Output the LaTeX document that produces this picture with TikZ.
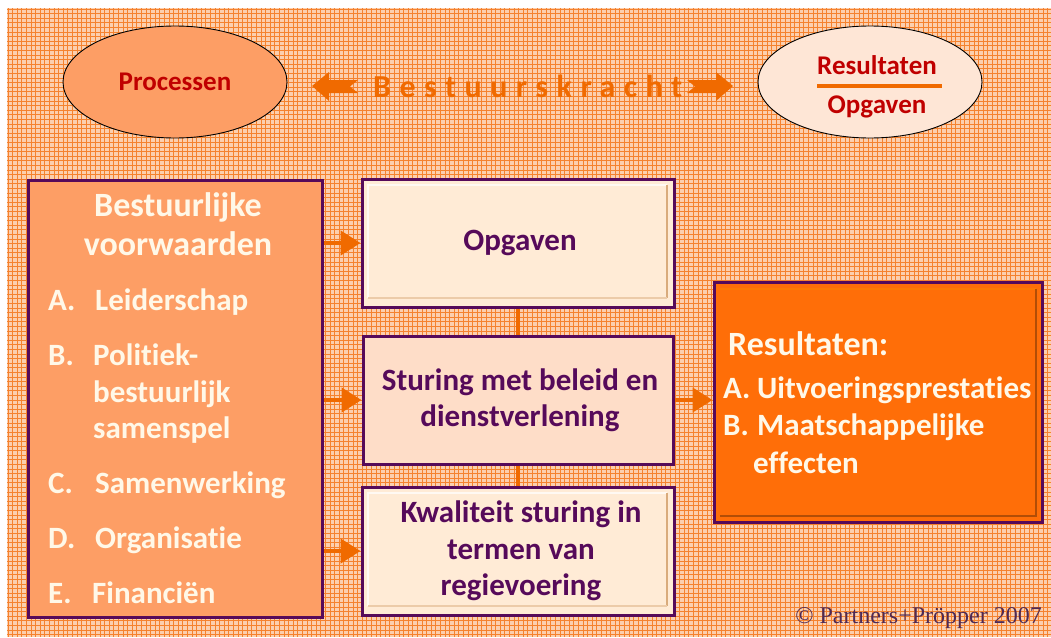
\documentclass[tikz,border=0pt]{standalone}
\usepackage{fontspec}
\setmainfont[Ligatures=NoCommon]{Carlito}
\newfontfamily\copyfont{Liberation Serif}
\newfontfamily\spacedfont[LetterSpace=26.5,Ligatures=NoCommon]{Carlito}
\usetikzlibrary{arrows.meta,shapes.geometric}
\definecolor{bgpeach}{HTML}{FCCFAE}
\definecolor{gridor}{HTML}{F5822E}
\definecolor{salmon}{HTML}{FD9E65}
\definecolor{lightpeach}{HTML}{FEE6D6}
\definecolor{cream}{HTML}{FFEBD6}
\definecolor{peachbox}{HTML}{FEDDC8}
\definecolor{vivid}{HTML}{FF6E08}
\definecolor{arrowor}{HTML}{F06A00}
\definecolor{purp}{HTML}{560A5A}
\definecolor{darkred}{HTML}{C00000}
\definecolor{offwhite}{HTML}{FFF8E8}
\definecolor{copyc}{HTML}{4E2A55}
\tikzset{
  ell/.style={ellipse, draw=black, line width=0.9pt, minimum width=224pt, minimum height=112pt, inner sep=0pt},
  ellt/.style={text=darkred, font=\bfseries\fontsize{27}{30}\selectfont, inner sep=0pt},
  pbox/.style={draw=purp, line width=3pt, inner sep=0pt},
  midt/.style={text=purp, font=\bfseries\fontsize{31}{36.5}\selectfont, align=center, inner sep=0pt},
  leftt/.style={text=offwhite, font=\bfseries\fontsize{31}{38}\selectfont, inner sep=0pt, anchor=west, text height=24pt, text depth=4pt},
  rest/.style={text=offwhite, font=\bfseries\fontsize{31}{38}\selectfont, inner sep=0pt, anchor=west, text height=24pt, text depth=4pt},
  conn/.style={draw=arrowor, line width=4.5pt, -{Triangle[length=20pt,width=24pt]}},
  vconn/.style={draw=arrowor, line width=4pt},
}
\begin{document}
\begin{tikzpicture}[x=1pt,y=-1pt]
\useasboundingbox (0,0) rectangle (1051,637);
\fill[white] (0,0) rectangle (1051,637);
\fill[bgpeach] (7,8) rectangle (1051,637);
\begin{scope}
\clip (7,8) rectangle (1051,637);
\foreach \i in {0,...,228} {\draw[gridor, line width=0.9pt] ({8+\i*4.6},8) -- ++(0,629);}
\foreach \j in {0,...,137} {\draw[gridor, line width=0.9pt] (7,{9+\j*4.6}) -- ++(1044,0);}
\end{scope}

% top ellipses
\node[ell, fill=salmon] (P) at (175,82) {};
\node[ellt] (Pt) at (175,82) {Processen};
\node[ell, fill=lightpeach] (E) at (870,82) {};
\node[ellt] (E1) at (877,65) {Resultaten};
\node[ellt] (E2) at (877,107) {Opgaven};
\coordinate (Ea) at (817,86);
\coordinate (Eb) at (942,86);
\draw[arrowor, line width=4.5pt] (Ea) -- (Eb);

% Bestuurskracht arrows
\fill[arrowor] (312,86) -- (329,72) -- (329,80) -- (358,80) -- (350,86.5) -- (358,93) -- (329,93) -- (329,101) -- cycle;
\fill[arrowor] (733,86) -- (716,72) -- (716,80) -- (687,80) -- (695,86.5) -- (687,93) -- (716,93) -- (716,101) -- cycle;
\node[text=arrowor, font=\spacedfont\bfseries\fontsize{32}{34}\selectfont, inner sep=0pt, anchor=west, text height=22pt, text depth=0pt] (B) at (373,86) {Bestuurskracht};

% left box
\node[pbox, fill=salmon, minimum width=294pt, minimum height=437pt] (L) at (175,398.5) {};
\node[text=offwhite, font=\bfseries\fontsize{34}{39}\selectfont, align=center, inner sep=0pt] (Lh) at (178,224) {Bestuurlijke\\voorwaarden};
\node[leftt] (La) at (48,300) {\makebox[47pt][l]{A.}Leiderschap};
\node[leftt] (Lb) at (48,355) {\makebox[45pt][l]{B.}Politiek-};
\node[leftt] (Lbt2) at (93,392) {bestuurlijk};
\node[leftt] (Lbt3) at (93,428) {samenspel};
\node[leftt] (Lc) at (48,483) {\makebox[47pt][l]{C.}Samenwerking};
\node[leftt] (Ld) at (48,538) {\makebox[47pt][l]{D.}Organisatie};
\node[leftt] (Le) at (48,593) {\makebox[44pt][l]{E.}Financiën};

% middle boxes
\node[pbox, fill=cream, minimum width=312pt, minimum height=128pt] (O) at (518,243) {};
\draw[white!70!cream, line width=1.5pt] (368,298) -- (368,185) -- (667,185);
\draw[brown!60!cream, line width=1.2pt] (667,185) -- (667,298);
\draw[brown!30!cream, line width=2.5pt] (368,298) -- (667,298);
\node[midt] (Ot) at (520,243) {Opgaven};

\node[pbox, fill=peachbox, minimum width=310pt, minimum height=128pt] (S) at (518,400) {};
\node[midt] (St) at (520,400) {Sturing met beleid en\\dienstverlening};

\node[pbox, fill=cream, minimum width=312pt, minimum height=128pt] (K) at (518,551) {};
\draw[white!70!cream, line width=1.5pt] (368,606) -- (368,493) -- (667,493);
\draw[brown!60!cream, line width=1.2pt] (667,493) -- (667,606);
\draw[brown!30!cream, line width=2.5pt] (368,606) -- (667,606);
\node[midt] (Kt) at (521,551) {Kwaliteit sturing in\\termen van\\regievoering};

% result box
\node[pbox, fill=vivid, minimum width=328pt, minimum height=240pt] (R) at (878,402) {};
\draw[orange!60!vivid, line width=2pt] (720,289) -- (1036,289);
\draw[vivid!70!black, line width=2pt] (1036,289) -- (1036,516) -- (720,516);
\node[rest, font=\bfseries\fontsize{34}{38}\selectfont] (R0) at (728,345) {Resultaten:};
\node[rest] (Ra) at (723,388) {\makebox[34pt][l]{A.}Uitvoeringsprestaties};
\node[rest] (Rb) at (723,425) {\makebox[34pt][l]{B.}Maatschappelijke};
\node[rest] (Rbt2) at (753,463) {effecten};

% connectors
\draw[vconn] (O.south) -- (S.north);
\draw[vconn] (S.south) -- (K.north);
\draw[conn] (L.east |- O.west) -- (O.west);
\draw[conn] (L.east |- S.west) -- (S.west);
\draw[conn] (L.east |- K.west) -- (K.west);
\draw[conn] (S.east) -- (R.west |- S.east);

% copyright
\node[text=copyc, font=\copyfont\fontsize{24}{28}\selectfont, inner sep=0pt, anchor=east] (C) at (1042,618) {© Partners+Pröpper 2007};
\end{tikzpicture}
\end{document}
